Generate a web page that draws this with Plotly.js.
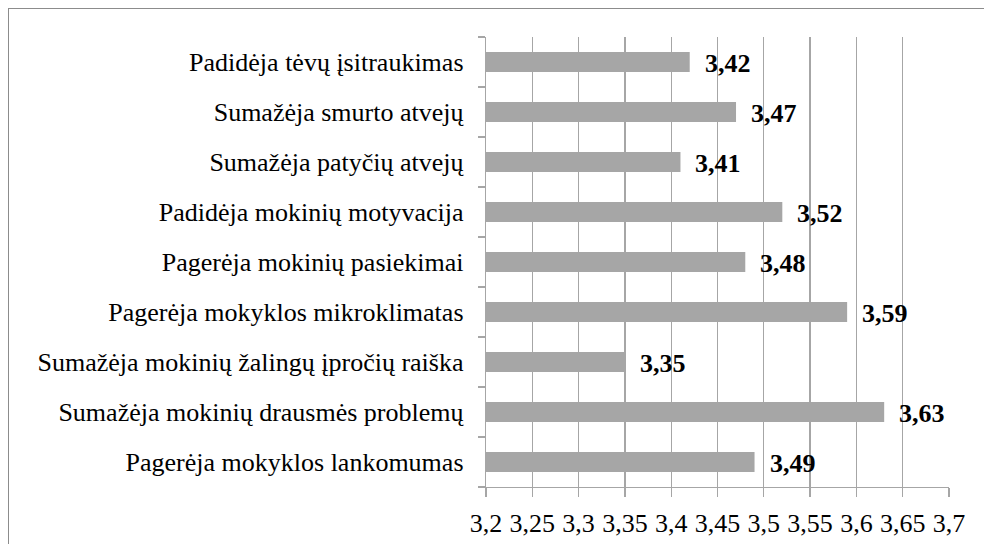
<!DOCTYPE html>
<html>
<head>
<meta charset="utf-8">
<script src="https://cdn.plot.ly/plotly-3.0.1.min.js"></script>
<style>
  html, body { margin: 0; padding: 0; background: #ffffff; overflow: hidden; }
  #chart { position: absolute; left: 0; top: 0; width: 984px; height: 544px; }
  #frame { position: absolute; left: 8px; top: 8px; width: 1000px; height: 600px;
           border: 1.5px solid #8c8c8c; pointer-events: none; z-index: 5; }
</style>
</head>
<body>
<div id="chart"></div>
<div id="frame"></div>
<script>
// Categories listed bottom to top (as on the value axis order)
const categories = [
  "Pagerėja mokyklos lankomumas",
  "Sumažėja mokinių drausmės problemų",
  "Sumažėja mokinių žalingų įpročių raiška",
  "Pagerėja mokyklos mikroklimatas",
  "Pagerėja mokinių pasiekimai",
  "Padidėja mokinių motyvacija",
  "Sumažėja patyčių atvejų",
  "Sumažėja smurto atvejų",
  "Padidėja tėvų įsitraukimas"
];
const values = [3.49, 3.63, 3.35, 3.59, 3.48, 3.52, 3.41, 3.47, 3.42];
const valueLabels = ["3,49", "3,63", "3,35", "3,59", "3,48", "3,52", "3,41", "3,47", "3,42"];
const xTickVals = [3.2, 3.25, 3.3, 3.35, 3.4, 3.45, 3.5, 3.55, 3.6, 3.65, 3.7];
const xTickText = ["3,2", "3,25", "3,3", "3,35", "3,4", "3,45", "3,5", "3,55", "3,6", "3,65", "3,7"];

const FONT = "Liberation Serif";
const GRID = "#a6a6a6";

const trace = {
  type: "bar",
  orientation: "h",
  y: categories,
  x: values,
  base: 0,
  width: 0.4,
  marker: { color: "#a6a6a6", line: { width: 0 } },
  hoverinfo: "skip"
};

const annotations = categories.map((c, i) => ({
  x: values[i],
  y: c,
  xref: "x",
  yref: "y",
  text: "<b>" + valueLabels[i] + "</b>",
  showarrow: false,
  xanchor: "left",
  yanchor: "middle",
  xshift: 13,
  yshift: -1,
  font: { family: FONT, size: 26, color: "#000000" }
}));

const layout = {
  width: 984,
  height: 544,
  margin: { l: 486, r: 35, t: 37, b: 57, pad: 0 },
  paper_bgcolor: "rgba(0,0,0,0)",
  plot_bgcolor: "#ffffff",
  font: { family: FONT, color: "#000000" },
  showlegend: false,
  bargap: 0.6,
  xaxis: {
    range: [3.2, 3.7],
    tickmode: "array",
    tickvals: xTickVals,
    ticktext: xTickText,
    showgrid: true,
    gridcolor: GRID,
    gridwidth: 1.3,
    zeroline: false,
    showline: true,
    linecolor: GRID,
    linewidth: 1.3,
    ticks: "outside",
    ticklen: 9,
    tickwidth: 1.3,
    tickcolor: GRID,
    ticklabelstandoff: 3,
    tickfont: { family: FONT, size: 26, color: "#000000" },
    fixedrange: true
  },
  yaxis: {
    type: "category",
    categoryorder: "array",
    categoryarray: categories,
    tickson: "boundaries",
    ticks: "outside",
    ticklen: 7,
    tickwidth: 1.3,
    tickcolor: GRID,
    ticklabelstandoff: 16,
    showgrid: false,
    zeroline: false,
    showline: true,
    linecolor: GRID,
    linewidth: 1.3,
    tickfont: { family: FONT, size: 26, color: "#000000" },
    fixedrange: true
  },
  annotations: annotations
};

Plotly.newPlot("chart", [trace], layout, { displayModeBar: false, staticPlot: true });
</script>
</body>
</html>
